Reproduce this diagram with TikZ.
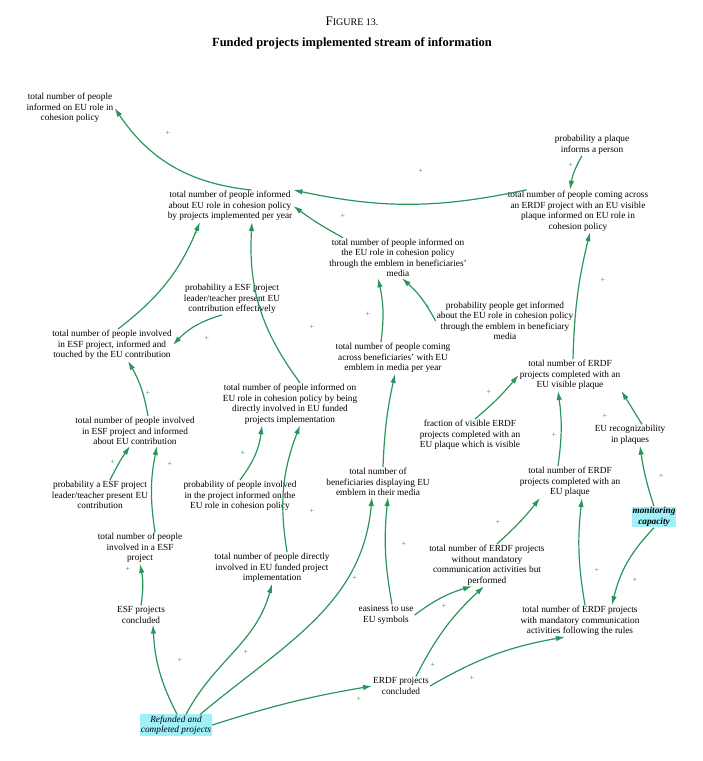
\documentclass[tikz,border=0pt]{standalone}
\usepackage{fontspec}
\setmainfont{Liberation Serif}
\usetikzlibrary{arrows.meta,calc}
\definecolor{ln}{RGB}{40,150,90}
\definecolor{hl}{RGB}{160,240,250}
\begin{document}
\begin{tikzpicture}[x=1pt,y=-1pt,
  t/.style={align=center,font=\fontsize{9.3}{10.5}\selectfont,inner sep=1pt},
  h/.style={t,fill=hl,font=\fontsize{9.3}{10.5}\selectfont\itshape},
  a/.style={draw=ln,line width=1.2pt,-{Latex[length=9pt,width=5.5pt]}},
  bR/.style={bend left=#1},bL/.style={bend right=#1},
  pl/.style={text=ln,font=\fontsize{8}{8}\selectfont,inner sep=0pt}]
\useasboundingbox (0,0) rectangle (703,761);
\node (t1) at (352,21) {\fontsize{13}{15}\selectfont F\fontsize{10}{12}\selectfont IGURE 13.};
\node (t2) at (352,43) {\fontsize{12.5}{15}\selectfont\bfseries Funded projects implemented stream of information};
\node[t] (A) at (70,108) {total number of people\\informed on EU role in\\cohesion policy};
\node[t] (B) at (230,206) {total number of people informed\\about EU role in cohesion policy\\by projects implemented per year};
\node[t] (C) at (578,211) {total number of people coming across\\an ERDF project with an EU visible\\plaque informed on EU role in\\cohesion policy};
\node[t] (D) at (592,145) {probability a plaque\\informs a person};
\node[t] (E) at (398,258) {total number of people informed on\\the EU role in cohesion policy\\through the emblem in beneficiaries'\\media};
\node[t] (F) at (505,321) {probability people get informed\\about the EU role in cohesion policy\\through the emblem in beneficiary\\media};
\node[t] (G) at (232,299) {probability a ESF project\\leader/teacher present EU\\contribution effectively};
\node[t] (H) at (112,345) {total number of people involved\\in ESF project, informed and\\touched by the EU contribution};
\node[t] (I) at (393,358) {total number of people coming\\across beneficiaries' with EU\\emblem in media per year};
\node[t] (J) at (570,375) {total number of ERDF\\projects completed with an\\EU visible plaque};
\node[t] (K) at (135,431) {total number of people involved\\in ESF project and informed\\about EU contribution};
\node[t] (L) at (290,404) {total number of people informed on\\EU role in cohesion policy by being\\directly involved in EU funded\\projects implementation};
\node[t] (M) at (470,435) {fraction of visible ERDF\\projects completed with an\\EU plaque which is visible};
\node[t] (N) at (630,435) {EU recognizability\\in plaques};
\node[t] (O) at (100,495) {probability a ESF project\\leader/teacher present EU\\contribution};
\node[t] (P) at (240,496) {probability of people involved\\in the project informed on the\\EU role in cohesion policy};
\node[t] (Q) at (378,482) {total number of\\beneficiaries displaying EU\\emblem in their media};
\node[t] (R) at (570,482) {total number of ERDF\\projects completed with an\\EU plaque};
\node[h,font=\fontsize{9.3}{10.5}\selectfont\itshape\bfseries] (S) at (654,517) {monitoring\\capacity};
\node[t] (T) at (140,548) {total number of people\\involved in a ESF\\project};
\node[t] (U) at (487,565) {total number of ERDF projects\\without mandatory\\communication activities but\\performed};
\node[t] (V) at (272,568) {total number of people directly\\involved in EU funded project\\implementation};
\node[t] (W) at (141,615) {ESF projects\\concluded};
\node[t] (X) at (386,615) {easiness to use\\EU symbols};
\node[t] (Y) at (580,621) {total number of ERDF projects\\with mandatory communication\\activities following the rules};
\node[t] (Z) at (401,686) {ERDF projects\\concluded};
\node[h] (RC) at (176,725) {Refunded and\\completed projects};
% arrows
\draw[a] (B.north east) ++(-42,0) to[bR=25] (A.east);
\draw[a] (C.north west) ++(20,0) to[bR=12] (B.north east);
\draw[a] (E.north west) ++(15,0) to[bR=4] (B.east);
\draw[a] (D.south) ++(-10,0) to[bL=10] ($(C.north)+(-8,0)$);
\draw[a] (H.north) ++(6,0) to[bL=15] ($(B.south)+(-30,0)$);
\draw[a] (G.south) ++(-10,0) to[bL=15] (H.east);
\draw[a] (L.north) ++(10,0) to[bR=20] ($(B.south)+(22,0)$);
\draw[a] (I.north) ++(-12,0) to[bL=10] ($(E.south)+(-20,0)$);
\draw[a] (F.west) to[bL=10] ($(E.south)+(4,0)$);
\draw[a] (J.north) ++(3,0) to[bR=6] ($(C.south)+(12,0)$);
\draw[a] (K.north) ++(13,0) to[bL=10] ($(H.south)+(16,0)$);
\draw[a] (M.north) ++(5,0) to[bL=5] (J.west);
\draw[a] (R.north) ++(-12,0) to[bL=8] ($(J.south)+(-12,0)$);
\draw[a] (N.north) ++(12,0) to (J.south east);
\draw[a] (O.north) ++(10,0) to[bR=4] ($(K.south)+(-5,0)$);
\draw[a] (T.north) ++(15,0) to[bR=10] ($(K.south)+(22,0)$);
\draw[a] (P.north) to[bL=15] ($(L.south)+(-28,0)$);
\draw[a] (V.north) ++(15,0) to[bR=15] ($(L.south)+(10,0)$);
\draw[a] (Q.north) ++(5,0) to[bR=5] ($(I.south)+(2,0)$);
\draw[a] (S.north) to[bR=5] ($(N.south)+(10,0)$);
\draw[a] (S.south) to[bL=15] ($(Y.north)+(32,0)$);
\draw[a] (U.north) ++(10,0) to[bL=5] ($(R.south)+(-30,0)$);
\draw[a] (X.north) ++(6,0) to[bR=8] ($(Q.south)+(10,0)$);
\draw[a] (X.east) to[bR=10] ($(U.south)+(-15,0)$);
\draw[a] (W.north) to[bL=10] (T.south);
\draw[a] (Y.north) ++(5,0) to[bR=8] ($(R.south)+(12,0)$);
\draw[a] (Z.north) ++(15,0) to[bR=10] ($(U.south)+(-3,0)$);
\draw[a] (Z.east) to[bR=10] ($(Y.south)+(-15,0)$);
\draw[a] (RC.north) ++(1,0) to[bR=12] ($(W.south)+(12,0)$);
\draw[a] (RC.north) ++(10,0) to[out=62,in=-105] (V.south);
\draw[a] (RC.north east) ++(-12,0) to[out=40,in=-95] ($(Q.south)+(-6,0)$);
\draw[a] (RC.east) to[bR=4] (Z.west);
% plus signs
\foreach \x/\y [count=\i] in {168/133,421/171,343/216,571/165,196/233,207/338,312/327,368/314,428/307,603/280,148/393,489/392,554/435,605/416,113/462,170/464,243/453,312/511,355/578,404/544,444/606,498/522,433/665,472/678,359/699,246/652,180/660,128/569,597/570,635/580,661/476}
  \node[pl] (p\i) at (\x,\y) {+};
\end{tikzpicture}
\end{document}
